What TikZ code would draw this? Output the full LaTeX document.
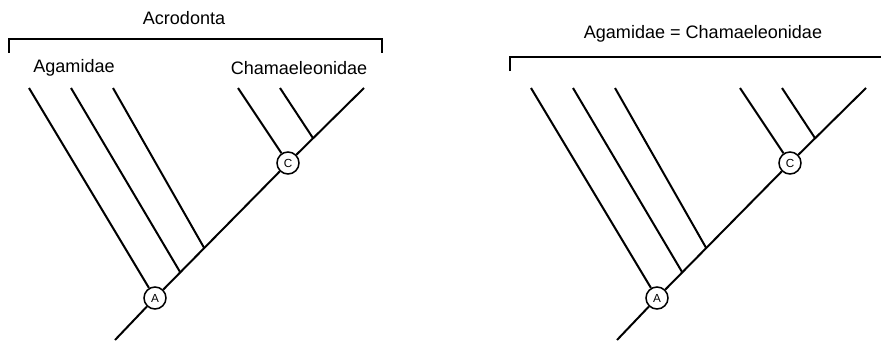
\documentclass[tikz,border=0pt]{standalone}
\usepackage{fontspec}
\setmainfont{Liberation Sans}
\usetikzlibrary{calc}
\tikzset{
  clade/.style={circle,draw,line width=1.3pt,inner sep=0pt,minimum size=0.66cm,fill=white,font=\fontsize{10}{12}\selectfont},
  lbl/.style={font=\fontsize{15.4}{18}\selectfont},
  brace/.style={line width=1.3pt}
}
\begin{document}
\begin{tikzpicture}[x=0.03cm,y=-0.03cm,line width=1.7pt]
    \useasboundingbox (0,0) rectangle (881,340);
    % the same tree twice
    \foreach \t/\dx in {l/0,r/502} {
      \begin{scope}[shift={(\dx,0)}]
        \node[clade] (A\t) at (155,298) {A};
        \node[clade] (C\t) at (288,163) {C};
        \coordinate (root\t) at (115,340);
        \coordinate (top\t) at (364,88);
        \coordinate (jb\t) at ($(A\t)!0.19!(C\t)$);
        \coordinate (jc\t) at ($(A\t)!0.37!(C\t)$);
        \coordinate (je\t) at ($(C\t)!0.33!(top\t)$);
        \foreach \i/\x in {a/29,b/71,c/113,d/238,e/280} {
          \coordinate (leaf\i\t) at (\x,88);
        }
        \draw (root\t) -- (A\t) -- (C\t) -- (top\t);
        \draw (leafa\t) -- (A\t);
        \draw (leafb\t) -- (jb\t);
        \draw (leafc\t) -- (jc\t);
        \draw (leafd\t) -- (C\t);
        \draw (leafe\t) -- (je\t);
      \end{scope}
    }
    % left: two families
    \node[lbl] (acro) at (184,18) {Acrodonta};
    \node[lbl] (agam) at (74,68) {Agamidae};
    \node[lbl] (cham) at (299,68) {Chamaeleonidae};
    \coordinate (bl1) at (9,53);
    \coordinate (bl2) at (382,53);
    \draw[brace] (bl1) -- ++(0,-14) -| (bl2);
    % right: one family
    \node[lbl] (same) at (703,34) {Agamidae = Chamaeleonidae};
    \coordinate (br1) at (510,71);
    \coordinate (br2) at (881,57);
    \draw[brace] (br1) |- (br2);
\end{tikzpicture}
\end{document}
